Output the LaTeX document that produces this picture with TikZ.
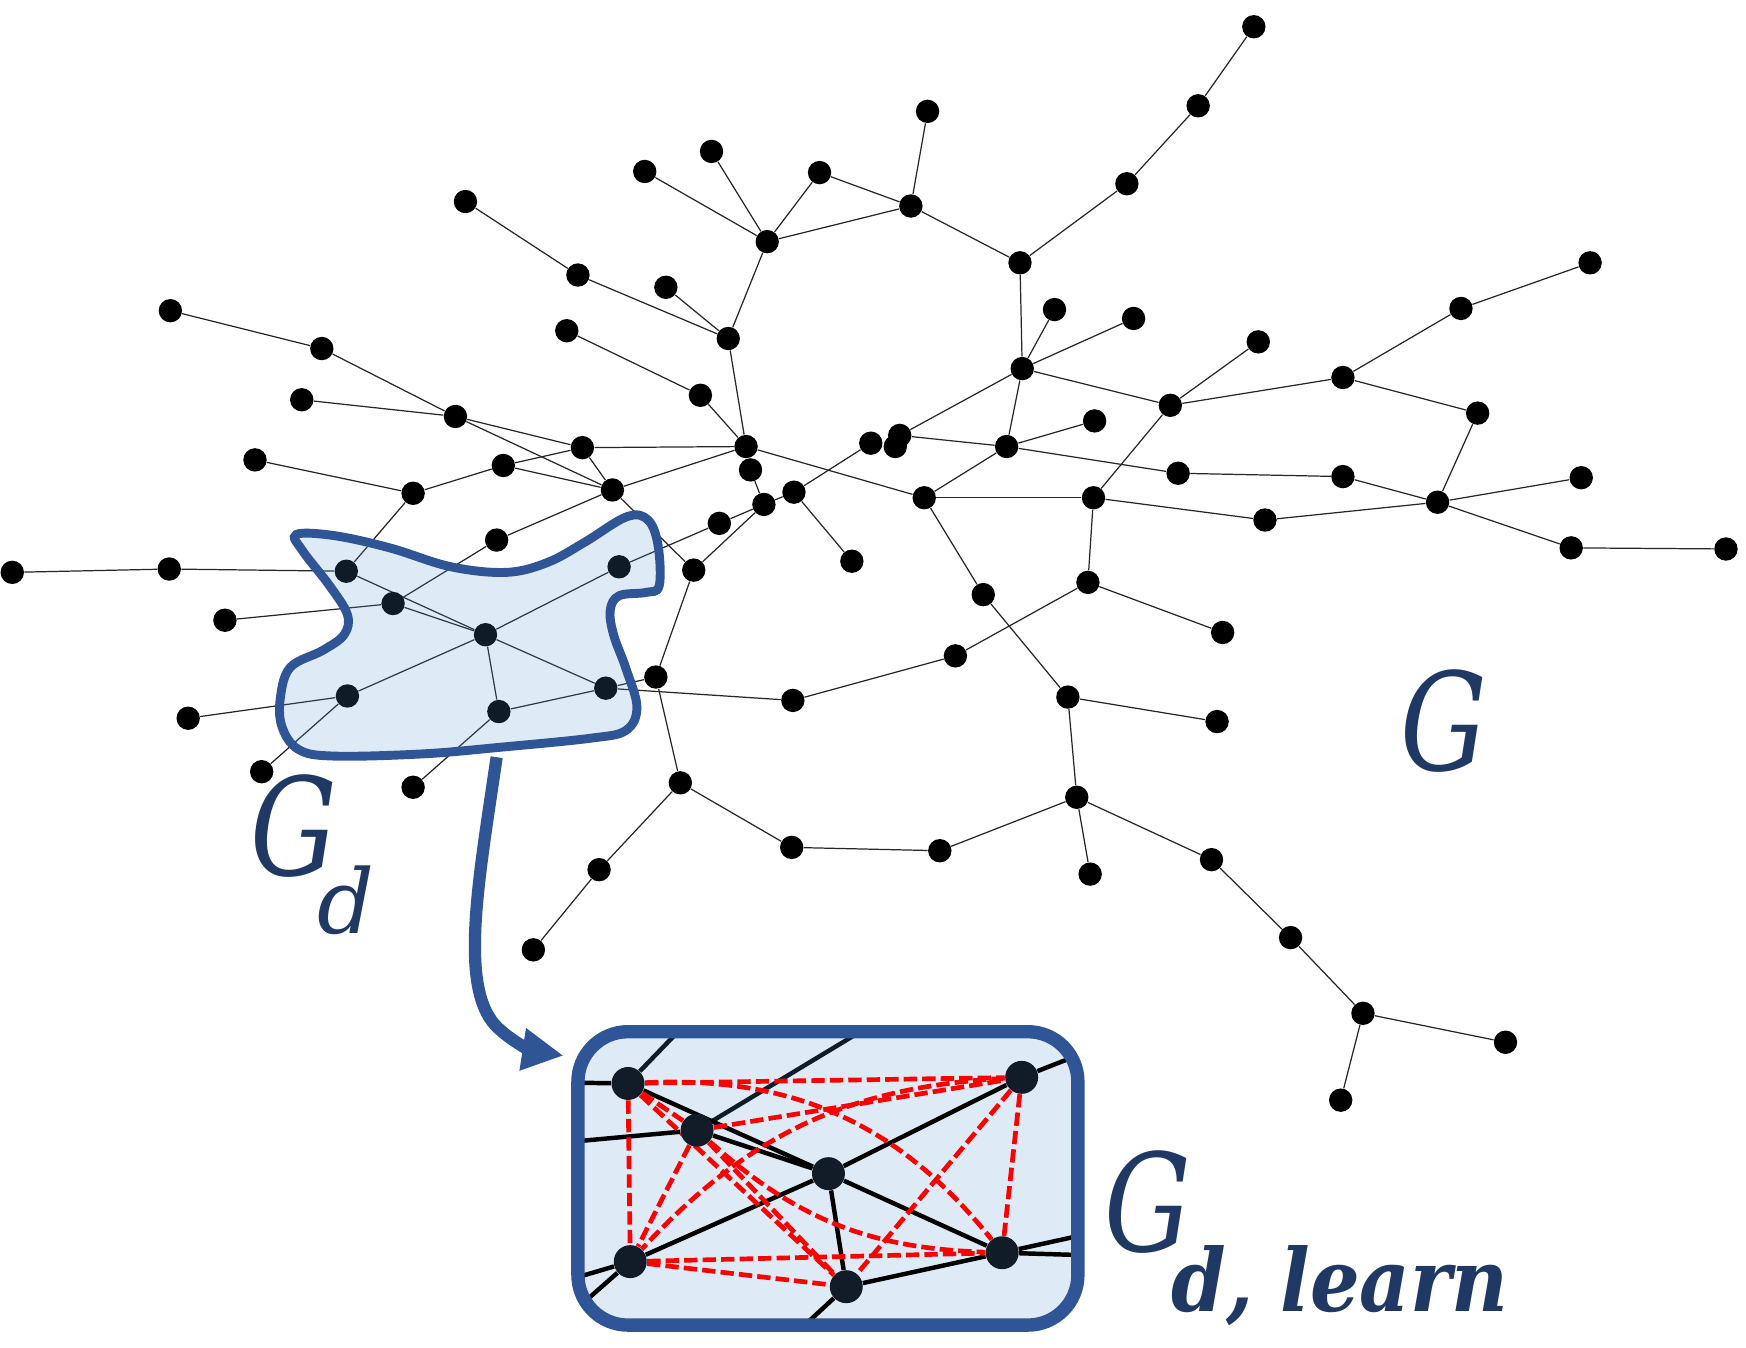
\documentclass[tikz,border=0pt]{standalone}
\usepackage{fontspec}
\usepackage{graphicx}
\setmainfont{DejaVu Serif}
\usetikzlibrary{arrows.meta}
\pgfdeclarelayer{bottom}
\pgfdeclarelayer{edges}
\pgfdeclarelayer{top}
\pgfsetlayers{bottom,edges,main,top}
\definecolor{blobfill}{RGB}{88,145,212}
\definecolor{blueline}{RGB}{47,85,151}
\definecolor{boxfill}{RGB}{222,235,247}
\definecolor{navytext}{RGB}{31,56,100}
\definecolor{darknode}{RGB}{17,28,40}
\definecolor{dashred}{RGB}{255,0,0}
\tikzset{
  gnode/.style={circle,fill=black,inner sep=0pt,minimum size=10.5pt},
  bnode/.style={circle,fill=darknode,inner sep=0pt,minimum size=14.8pt},
  gedge/.style={draw=black!85,line width=0.55pt},
  bedge/.style={draw=black,line width=2pt},
  bedgenavy/.style={draw=darknode,line width=2pt},
  redge/.style={draw=dashred,line width=2.1pt,dash pattern=on 6pt off 2.3pt},
  lbl/.style={text=navytext,inner sep=0pt,outer sep=0pt},
  bigarrow/.style={draw=blueline,line width=5.5pt,-{Triangle[length=18.5pt,width=18pt]}}
}
\begin{document}
\begin{tikzpicture}[x=0.5pt,y=-0.5pt]
\useasboundingbox (0,0) rectangle (1568,1210);

% ---------- main graph nodes ----------
\foreach \n/\x/\y in {
 n1/1126/24, n2/1076/95, n3/1012/165, n4/916/236, n5/818/185, n6/833/100,
 n7/736/155, n8/689/217, n9/639/136, n10/579/154, n11/418/181, n12/519/247,
 n13/598/258, n14/654/304, n15/509/297, n16/629/355, n17/670/401, n18/523/402,
 n19/409/374, n20/289/313, n21/153/279, n22/271/359, n23/229/413, n24/371/443,
 n25/452/418, n26/550/440, n27/674/422, n28/686/453, n29/713/442, n30/765/504,
 n31/646/470, n32/623/512, n33/446/485, n34/782/398, n35/808/391, n36/804/401,
 n37/830/447, n38/904/401, n39/918/331, n40/947/278, n41/1018/286, n42/983/378,
 n43/982/447, n44/1051/364, n45/1130/307, n46/1206/339, n47/1312/277, n48/1428/236,
 n49/1327/371, n50/1291/451, n51/1420/429, n52/1411/492, n53/1550/493, n54/1206/428,
 n55/1058/425, n56/1136/467, n57/977/523, n58/883/534, n59/1098/568, n60/858/589,
 n61/712/629, n62/959/626, n63/1093/648, n64/967/716, n65/979/785, n66/1088/772,
 n67/1159/842, n68/1224/910, n69/1352/936, n70/1204/988, n71/844/764, n72/711/761,
 n73/611/703, n74/538/781, n75/479/853, n76/589/608, n77/11/514, n78/152/511,
 n79/311/513, n80/353/542, n81/202/557, n82/436/570, n83/556/509, n84/312/625,
 n85/169/645, n86/448/639, n87/544/618, n88/235/693, n89/371/707}
 {\node[gnode] (\n) at (\x,\y) {};}

% ---------- main graph edges ----------
\begin{pgfonlayer}{edges}
\foreach \a/\b in {
 n1/n2, n2/n3, n3/n4, n4/n5, n5/n6, n5/n7, n5/n8, n7/n8, n9/n8, n10/n8, n8/n14,
 n11/n12, n12/n14, n13/n14, n14/n17, n15/n16, n16/n17, n21/n20, n20/n19, n22/n19,
 n19/n18, n19/n26, n18/n17, n18/n25, n18/n26, n25/n24, n25/n26, n23/n24, n24/n79,
 n26/n17, n26/n33, n26/n32, n33/n80, n17/n37, n27/n28, n28/n31, n28/n32, n28/n29,
 n29/n34, n29/n30, n31/n83, n32/n76, n76/n73, n87/n76, n87/n61, n73/n72, n73/n74,
 n74/n75, n61/n60, n4/n39, n39/n40, n39/n41, n39/n44, n39/n35, n39/n38, n44/n45,
 n44/n46, n46/n47, n47/n48, n46/n49, n49/n50, n38/n42, n35/n38, n38/n55, n38/n37,
 n55/n54, n54/n50, n37/n43, n43/n44, n43/n56, n56/n50, n50/n51, n50/n52, n52/n53,
 n37/n58, n43/n57, n57/n59, n57/n60, n58/n62, n62/n63, n62/n64, n64/n71, n71/n72,
 n64/n65, n64/n66, n66/n67, n67/n68, n68/n69, n68/n70, n77/n78, n78/n79, n79/n82,
 n80/n81, n80/n82, n82/n83, n82/n84, n82/n86, n82/n87, n84/n85, n84/n88, n86/n87,
 n86/n89}
 {\draw[gedge] (\a) -- (\b);}
\end{pgfonlayer}

% ---------- learned sub-graph box ----------
\begin{pgfonlayer}{bottom}
\fill[boxfill,rounded corners=22.5pt] (519,926.5) rectangle (968,1190);
\end{pgfonlayer}

\node[bnode] (b1) at (564,973) {};
\node[bnode] (b2) at (626,1015) {};
\node[bnode] (b3) at (744,1054) {};
\node[bnode] (b4) at (917.5,967.5) {};
\node[bnode] (b5) at (566,1133) {};
\node[bnode] (b6) at (760,1155.5) {};
\node[bnode] (b7) at (900,1125) {};

\coordinate (e1) at (620,915);
\coordinate (e2) at (495,972);
\coordinate (e3) at (495,1027);
\coordinate (e4) at (795,913);
\coordinate (e5) at (495,1154);
\coordinate (e6) at (500,1191);
\coordinate (e7) at (700,1211);
\coordinate (e8) at (990,939);
\coordinate (e9) at (1000,1103);
\coordinate (e10) at (1000,1128);

\begin{pgfonlayer}{edges}
\begin{scope}
\clip[rounded corners=22.5pt] (519,926.5) rectangle (968,1190);
\draw[bedgenavy] (b1) -- (e1);
\draw[bedgenavy] (b2) -- (e4);
\foreach \a/\b in {b1/e2, b1/b3, b2/e3, b2/b3, b3/b4, b4/e8, b3/b5, b3/b6, b3/b7,
  b6/b7, b7/e9, b7/e10, b5/e5, b5/e6, b6/e7}
  {\draw[bedge] (\a) -- (\b);}
\foreach \a/\b in {b1/b2, b1/b4, b1/b5, b1/b6, b2/b4, b2/b5, b2/b6, b4/b6, b4/b7,
  b5/b6, b5/b7}
  {\draw[redge] (\a) -- (\b);}
\draw[redge] (b1) to[bend left=27] (b7);
\draw[redge] (b2) to[bend right=20] (b7);
\draw[redge] (b4) to[bend right=22] (b5);
\end{scope}
\end{pgfonlayer}

% ---------- overlays ----------
\begin{pgfonlayer}{top}
\draw[blueline,line width=6pt,rounded corners=22.5pt] (519,926.5) rectangle (968,1190);
\filldraw[fill=blobfill,fill opacity=0.193,draw=blueline,line width=4pt]
  plot[smooth cycle,tension=0.6] coordinates {
  (266,480) (300,481) (350,492) (405,509) (455,514) (492,505) (525,487) (563,464)
  (582,467) (591,490) (592,526) (580,532) (556,535) (548,548) (551,570) (562,600)
  (572,635) (562,656) (530,663) (450,671) (380,677) (300,679) (268,673) (253,652)
  (252,625) (261,599) (290,584) (309,570) (312,552) (296,526) (272,495)};
\coordinate (astart) at (446,680);
\coordinate (aend) at (506,948);
\draw[bigarrow] (astart) .. controls (430,790) and (412,885) .. (445,921)
  .. controls (461,937) and (480,944) .. (aend);

\node[lbl,anchor=base west] (labG) at (1258,692)
  {\fontsize{61}{61}\selectfont\itshape\scalebox{0.8}[1]{G}};
\node[lbl,anchor=base west] (labGd) at (225,786)
  {\fontsize{61}{61}\selectfont\itshape\scalebox{0.8}[1]{G}\kern-9pt\raisebox{-26pt}{\fontsize{40}{40}\selectfont\itshape d}};
\node[lbl,anchor=base west] (labGdl) at (992,1124)
  {\fontsize{61}{61}\selectfont\itshape\scalebox{0.8}[1]{G}\kern-9pt\raisebox{-27pt}{\fontsize{39}{39}\selectfont\bfseries\itshape\scalebox{0.9}[1]{d, learn}}};
\end{pgfonlayer}
\end{tikzpicture}
\end{document}
